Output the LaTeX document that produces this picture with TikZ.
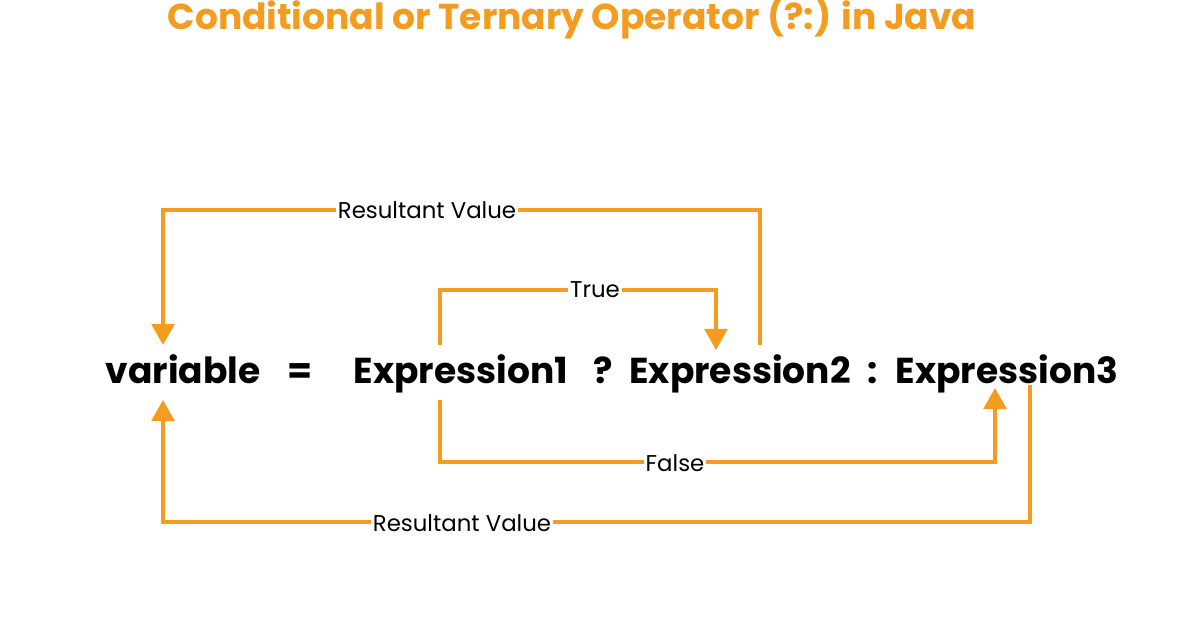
\documentclass[tikz,border=0pt]{standalone}
\usepackage{fontspec}
\setmainfont{Poppins}
\usetikzlibrary{arrows.meta}
\definecolor{javaorange}{HTML}{F39C1F}
\begin{document}
\begin{tikzpicture}[x=0.02cm, y=-0.02cm,
    word/.style={font=\fontsize{20.5}{24}\selectfont\bfseries, inner sep=0pt, anchor=base},
    lbl/.style={font=\fontsize{13}{15}\selectfont, fill=white, inner sep=1pt},
    link/.style={draw=javaorange, line width=2pt, -{Triangle[width=13pt,length=12pt]}}
]
\useasboundingbox (0,0) rectangle (1196,628);

% title
\node[font=\fontsize{20.5}{24}\selectfont\bfseries, text=javaorange] (title) at (572,18)
  {Conditional or Ternary Operator (?:) in Java};

% expression
\node[word] (var) at (183,383) {variable};
\node[word] (eq) at (300,383) {=};
\node[word] (exp1) at (461,383) {Expression1};
\node[word] (qm) at (603,383) {?};
\node[word] (exp2) at (740,383) {Expression2};
\node[word] (colon) at (873,383) {:};
\node[word] (exp3) at (1007,383) {Expression3};

% corner points
\coordinate (v1) at (163,345);
\coordinate (v2) at (163,400);
\coordinate (a1) at (760,345);
\coordinate (t1) at (440,345);
\coordinate (t2) at (716,350);
\coordinate (f1) at (440,400);
\coordinate (f2) at (995,388);
\coordinate (b1) at (1030,385);

% arrows
\draw[link] (a1) |- (163,210) -- (v1);
\draw[link] (t1) |- (716,290) -- (t2);
\draw[link] (f1) |- (995,462) -- (f2);
\draw[link] (b1) |- (163,522) -- (v2);

% labels
\node[lbl] (res1) at (427,210) {Resultant Value};
\node[lbl] (true) at (595,290) {True};
\node[lbl] (false) at (675,463) {False};
\node[lbl] (res2) at (462,523) {Resultant Value};
\end{tikzpicture}
\end{document}
